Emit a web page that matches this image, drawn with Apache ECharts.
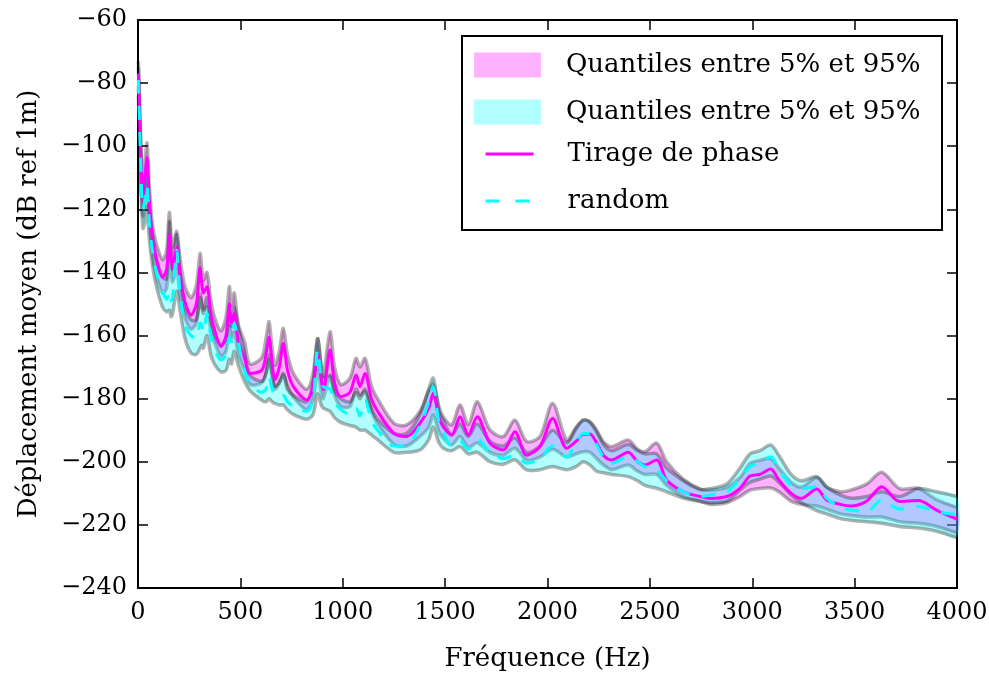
<!DOCTYPE html>
<html><head><meta charset="utf-8">
<script src="https://cdn.jsdelivr.net/npm/echarts@6/dist/echarts.min.js"></script>
<style>html,body{margin:0;padding:0;background:#fff}#c{width:989px;height:673px}</style>
</head><body><div id="c"></div>
<script>
// Frequency grid (Hz)
const FREQ = [2,12,24,34,44,55,70,90,120,140,153,162,169,189,205,230,259,285,303,312,319,337,355,373,405,430,446,457,470,490,520,
547,604,625,640,655,669,690,710,730,759,824,855,877,895,905,938,960,990,1035,1065,1084,1109,1140,1170,1250,
1312,1377,1420,1442,1470,1491,1532,1573,1613,1657,1719,1784,1841,1898,1963,2025,2094,
2140,2175,2207,2240,2273,2313,2394,2440,2476,2533,2582,2663,2745,
2794,2875,2940,2989,3038,3090,3130,3190,3240,3315,3363,3430,3480,3560,3632,3720,3811,3900,4000];

// "Tirage de phase" : median, 95% and 5% quantiles (dB)
const PHASE_MED = [-77,-100,-117,-110,-103.5,-117,-129,-136,-141.5,-139,-128,-135,-138.5,-132,-141,-149.5,-153.5,-150,-138.5,-144,-146.5,-144.5,-153,-158,-163.5,-160,-150,-156,-153,-162,-167,
-172,-171,-166,-160.5,-169,-174,-170,-162.5,-171,-176.2,-180.4,-176,-166,-174,-177.2,-164.6,-175,-179.4,-178,-172.5,-176.2,-172,-180,-184,-191,
-192,-187.8,-183,-178.3,-186,-188.9,-191.5,-185.7,-191.5,-185.7,-194.1,-196.3,-190.5,-197.9,-195.2,-186.3,-195.7,
-193.5,-191.3,-191.2,-194,-197.9,-199.4,-197,-200,-201,-199.4,-205.8,-209.5,-211,
-211.6,-211,-208.4,-204.5,-204,-202.3,-205.8,-210,-211.6,-208.6,-212.1,-213.5,-214,-212.4,-207.9,-212.6,-212.3,-215.3,-218.2];
const PHASE_Q95 = [-73,-95,-112,-105,-99,-112.5,-124.5,-131,-136,-133,-121,-128.5,-132,-127,-135.5,-144.5,-148,-144,-134,-139,-142.5,-140,-148.5,-154,-158.5,-154,-144.5,-150.5,-146.5,-156.5,-162,
-169,-167,-161,-155.6,-164,-169.5,-165,-157.7,-166,-172,-177,-172,-161,-170,-173,-158.8,-170,-175.5,-173.5,-167.2,-170,-167.2,-176,-180,-187.8,
-188.3,-184,-177.5,-175.5,-182.5,-185.7,-188.3,-182,-188.3,-181,-189.9,-192,-186.8,-193.6,-192,-181.5,-193.1,
-189,-186.8,-187.3,-190,-193.6,-195.2,-193.1,-196,-196.8,-194.1,-200,-205.5,-208.6,
-209,-208,-205,-200.5,-199.5,-199,-202,-206.5,-208,-205,-208,-209.5,-209,-207,-203.3,-208.5,-208.4,-212,-214.5];
const PHASE_Q05 = [-81,-106,-122,-117,-111,-123,-134,-141,-146.5,-145,-135,-140,-143,-139,-147,-154.5,-158,-156,-147,-150,-152,-151,-158,-162,-166.5,-165,-157,-161,-159,-166,-171,
-175.5,-175,-172,-167.5,-173,-177,-175,-172.5,-176,-179.5,-183.5,-180,-171,-178,-180,-173,-179,-182.5,-182.5,-177,-179,-177.8,-184,-188,-194.5,
-195,-192,-189,-185.2,-190.5,-192.5,-194.7,-192,-195.5,-194,-197,-197.9,-195.7,-199.5,-198.5,-196,-198.5,
-197.5,-196.8,-197,-199,-201,-202.5,-201,-203,-204,-204,-207.5,-211,-212.5,
-213.5,-213,-211,-209,-208.5,-208.3,-209.5,-212.5,-213.5,-214,-215,-216.5,-217,-217.5,-217.5,-219,-219.5,-220.5,-222.5];

// "random" : median, 95% and 5% quantiles (dB)
const RAND_MED = [-79,-103,-120,-117,-112.5,-124,-133,-140,-146,-148.5,-146,-149,-148,-133,-146,-157,-160,-161,-156,-157,-159,-153,-160,-164,-167.7,-166,-160.5,-162,-156,-162,-171,
-175,-178,-177,-173,-177,-179,-179.5,-179,-181,-182.5,-184,-180,-164.5,-174,-176.2,-177,-181,-183.5,-185,-183,-185.5,-180.4,-187,-190,-195,
-194.7,-188.5,-181,-176.2,-187.5,-190.5,-195,-193.5,-196,-193,-197,-199,-198,-200.5,-199,-195,-198.4,
-194,-191,-191,-194.5,-198.5,-200.5,-198.4,-200,-201.5,-202.6,-206,-209.5,-211,
-210.5,-209.5,-205.5,-201.5,-200.3,-198.4,-202.5,-207.5,-208.5,-207.9,-211.5,-214.5,-215.3,-215.8,-212.1,-215,-214.2,-215.8,-216.8];
const RAND_Q95 = [-75,-98,-115,-112,-107,-119,-128,-135.5,-141.5,-142,-124,-134,-139,-128,-140,-151,-155,-155,-148,-151,-153,-148,-155,-159.5,-163,-161,-154,-157,-151,-157.5,-166,
-172.5,-174.5,-172,-166,-172,-176,-175,-172,-177,-179,-181,-175,-161,-170,-173.5,-172.5,-177.5,-180,-181,-178,-180,-177,-183,-186.5,-191,
-191,-185,-177,-173.5,-184,-187,-191.5,-188,-192,-188,-193.5,-195,-192.5,-197,-195,-190,-194,
-189.5,-186.8,-187.5,-190.5,-194.5,-196.5,-194.5,-196.5,-197.5,-197.5,-202,-206,-208.8,
-208.5,-207,-202,-197.5,-196.5,-194.7,-198,-204,-206,-204.7,-208,-210.5,-211.5,-211,-209.5,-211,-208.5,-209.5,-211];
const RAND_Q05 = [-84,-109,-126,-124,-119,-129,-137.5,-144.5,-151,-152.5,-152,-154,-153,-146,-152,-161,-165.5,-166,-164,-163,-164,-160,-166,-169,-171.5,-171,-167.5,-169,-165,-169.5,-174.5,
-177.5,-180.5,-181,-180,-181,-181.5,-182,-182,-183.5,-185,-186.5,-185,-178.5,-182,-183,-184,-186,-187.5,-188.5,-189,-190,-190,-191.5,-193,-197,
-197,-196.3,-193,-189,-194,-195.7,-196.5,-195.2,-197.5,-197,-200,-200.8,-199.4,-202.6,-202.5,-201.5,-202.5,
-201.5,-200,-201,-203,-203.5,-204,-204.7,-206,-207.5,-208.4,-209.5,-211.5,-212.5,
-213,-212.5,-209,-206.5,-205.5,-204.5,-206.5,-210.5,-213,-215.5,-216.5,-218,-218.5,-219,-219.5,-220.5,-221,-222,-224];

const X_TICKS = [0,500,1000,1500,2000,2500,3000,3500,4000];
const Y_TICKS = [-240,-220,-200,-180,-160,-140,-120,-100,-80,-60];

const LABEL_BAND = 'Quantiles entre 5% et 95%';
const FONT = 'DejaVu Serif';
const SMOOTH = 0.3;

const chart = echarts.init(document.getElementById('c'), null, {renderer: 'canvas'});

function pairs(arr) { return FREQ.map((f, i) => [f, arr[i]]); }

function band(name, lo, hi, color) {
  return {
    name: name, type: 'custom', coordinateSystem: 'cartesian2d',
    itemStyle: {color: color}, silent: true, z: 2,
    data: FREQ.map((f, i) => [f, lo[i], hi[i]]),
    encode: {x: 0, y: [1, 2]},
    renderItem: function (params, api) {
      if (params.dataIndex !== 0) return null;
      const top = [], bot = [];
      for (let i = 0; i < FREQ.length; i++) top.push(api.coord([FREQ[i], hi[i]]));
      for (let i = 0; i < FREQ.length; i++) bot.push(api.coord([FREQ[i], lo[i]]));
      const edgeStyle = {fill: null, stroke: 'rgba(0,0,0,0.3)', lineWidth: 3.5};
      return {type: 'group', children: [
        {type: 'polygon', shape: {points: top.concat(bot.slice().reverse()), smooth: SMOOTH}, style: {fill: color}},
        {type: 'polyline', shape: {points: top, smooth: SMOOTH}, style: edgeStyle},
        {type: 'polyline', shape: {points: bot, smooth: SMOOTH}, style: edgeStyle}
      ]};
    }
  };
}

const xMin = X_TICKS[0], xMax = X_TICKS[X_TICKS.length - 1];
const yMin = Y_TICKS[0], yMax = Y_TICKS[Y_TICKS.length - 1];
const tick = {show: true, inside: true, length: 10, lineStyle: {color: '#000', width: 1.5}};
const axLine = {show: true, onZero: false, lineStyle: {color: '#000', width: 2}};
const hiddenSymbol = {color: 'rgba(0,0,0,0)', borderColor: 'rgba(0,0,0,0)', borderWidth: 0, opacity: 0};

const option = {
  animation: false,
  backgroundColor: '#fff',
  grid: {left: 138, right: 32, top: 20, bottom: 85, outerBoundsMode: 'none', containLabel: false},
  xAxis: [
    {type: 'value', min: xMin, max: xMax, interval: 500, position: 'bottom',
     axisLine: axLine, axisTick: tick, splitLine: {show: false},
     axisLabel: {color: '#000', fontFamily: FONT, fontSize: 24, margin: 13, formatter: v => String(v)},
     name: 'Fréquence (Hz)', nameLocation: 'middle', nameGap: 58,
     nameTextStyle: {color: '#000', fontFamily: FONT, fontSize: 26}},
    {type: 'value', min: xMin, max: xMax, interval: 500, position: 'top',
     axisLine: axLine, axisTick: tick, splitLine: {show: false}, axisLabel: {show: false}}
  ],
  yAxis: [
    {type: 'value', min: yMin, max: yMax, interval: 20, position: 'left',
     axisLine: axLine, axisTick: tick, splitLine: {show: false},
     axisLabel: {color: '#000', fontFamily: FONT, fontSize: 24, margin: 11,
                 formatter: v => String(v).replace('-', '\u2212')},
     name: 'Déplacement moyen (dB ref 1m)', nameLocation: 'middle', nameGap: 96, nameRotate: 90,
     nameTextStyle: {color: '#000', fontFamily: FONT, fontSize: 26}},
    {type: 'value', min: yMin, max: yMax, interval: 20, position: 'right',
     axisLine: axLine, axisTick: tick, splitLine: {show: false}, axisLabel: {show: false}}
  ],
  legend: [
    {orient: 'vertical', left: 474, top: 52, padding: 0, itemWidth: 67, itemHeight: 25, itemGap: 21,
     selectedMode: false, z: 10,
     data: [{name: 'qPhase', icon: 'rect'}, {name: 'qRandom', icon: 'rect'}],
     formatter: () => LABEL_BAND,
     textStyle: {color: '#000', fontFamily: FONT, fontSize: 26, lineHeight: 25, padding: [0, 0, 0, 20]}},
    {orient: 'vertical', left: 484, top: 141, padding: 0, itemWidth: 48, itemHeight: 25, itemGap: 21,
     selectedMode: false, z: 10,
     data: [
       {name: 'Tirage de phase', itemStyle: hiddenSymbol, lineStyle: {color: '#ff00ff', width: 3}},
       {name: 'random', itemStyle: hiddenSymbol, lineStyle: {color: '#00ffff', width: 3, type: [14, 16]}}
     ],
     textStyle: {color: '#000', fontFamily: FONT, fontSize: 26, lineHeight: 25, padding: [0, 0, 0, 29]}}
  ],
  graphic: [
    {type: 'rect', left: 461, top: 35, z: 5,
     shape: {width: 480, height: 194},
     style: {fill: '#fff', stroke: '#000', lineWidth: 2}}
  ],
  series: [
    band('qPhase', PHASE_Q05, PHASE_Q95, 'rgba(255,0,255,0.3)'),
    band('qRandom', RAND_Q05, RAND_Q95, 'rgba(0,255,255,0.3)'),
    {name: 'Tirage de phase', type: 'line', data: pairs(PHASE_MED), symbol: 'none', z: 3, smooth: SMOOTH,
     itemStyle: {color: '#ff00ff'}, lineStyle: {color: '#ff00ff', width: 3}},
    {name: 'random', type: 'line', data: pairs(RAND_MED), symbol: 'none', z: 3, smooth: SMOOTH,
     itemStyle: {color: '#00ffff'}, lineStyle: {color: '#00ffff', width: 3, type: [14, 12]}}
  ]
};
chart.setOption(option);
</script>
</body></html>
